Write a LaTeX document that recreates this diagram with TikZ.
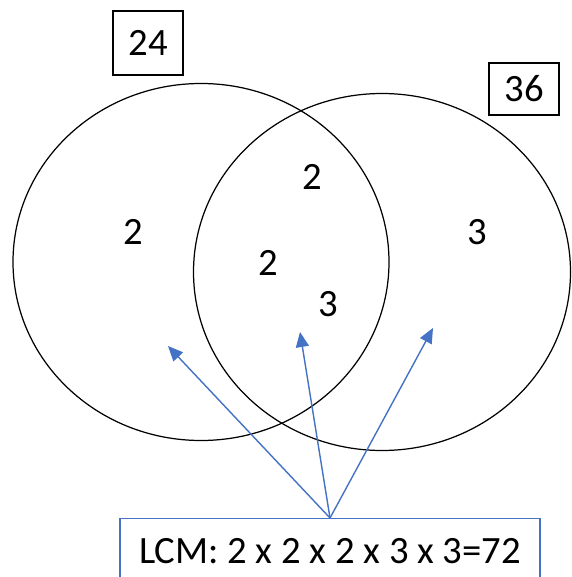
\documentclass[tikz,border=0pt]{standalone}
\usepackage{fontspec}
\setmainfont{Carlito}
\usetikzlibrary{arrows.meta}
\definecolor{arrowblue}{RGB}{68,114,196}
\tikzset{
  setbox/.style={draw, line width=0.8pt, minimum width=14mm, minimum height=12.8mm},
  lcmbox/.style={draw=arrowblue, line width=0.8pt, minimum width=84mm, minimum height=13mm},
  pointer/.style={-{Triangle[length=3mm,width=2.6mm]}, arrowblue, line width=0.8pt}
}
\begin{document}
\begin{tikzpicture}[x=0.2mm, y=-0.2mm, font=\fontsize{22}{26}\selectfont]
  \useasboundingbox (0,0) rectangle (571,577);
  \draw[line width=0.7pt] (201,262) ellipse[x radius=37.6mm, y radius=35.7mm];
  \draw[line width=0.7pt] (382,272) ellipse[x radius=37.7mm, y radius=35.7mm];
  \node[setbox] (s24) at (148,43) {24};
  \node[setbox, minimum height=10.4mm] (s36) at (524,89) {36};
  \foreach \x/\y/\t [count=\i] in {133/232/2, 312/177/2, 268/263/2, 328/304/3, 477/232/3}
    \node (n\i) at (\x,\y) {\t};
  \node[lcmbox, anchor=north] (lcm) at (330,518) {LCM: 2 x 2 x 2 x 3 x 3=72\hspace{2mm}};
  \foreach \x/\y [count=\i] in {168/346, 300/332, 433/328} {
    \coordinate (p\i) at (\x,\y);
    \draw[pointer] (lcm.north) -- (p\i);
  }
\end{tikzpicture}
\end{document}
